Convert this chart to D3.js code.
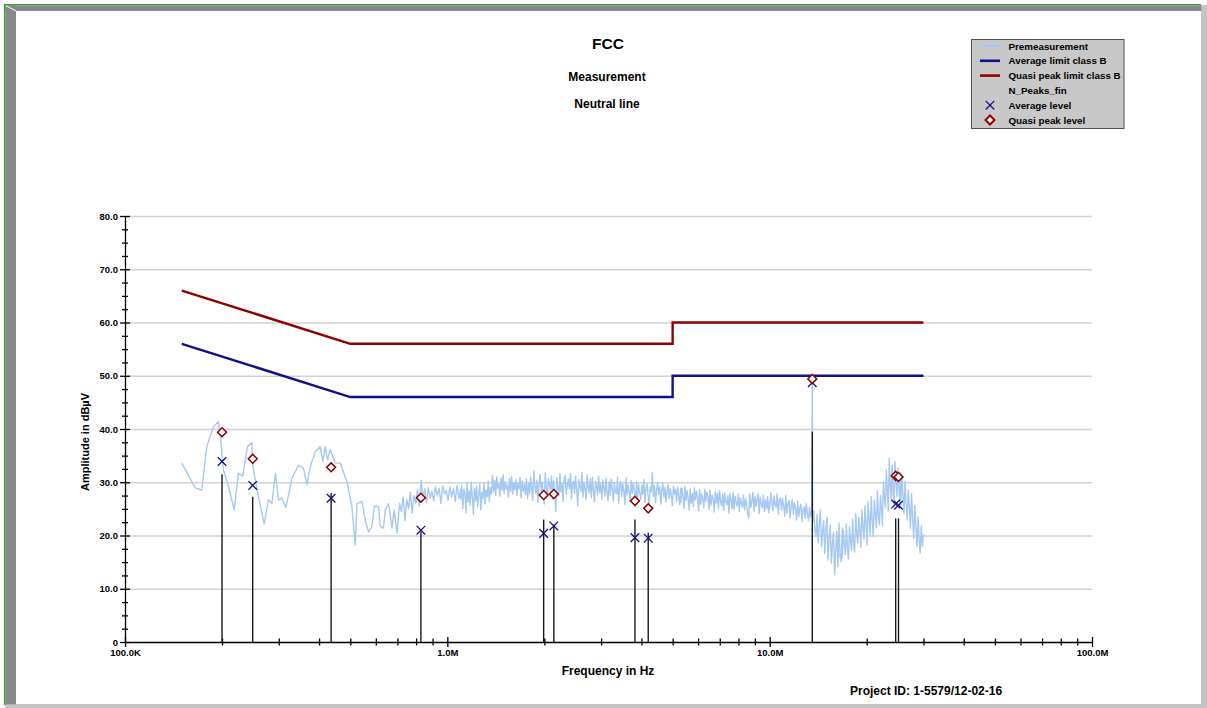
<!DOCTYPE html>
<html>
<head>
<meta charset="utf-8">
<script src="https://cdn.jsdelivr.net/npm/d3@7"></script>
<style>
  body { margin: 0; background: #fff; }
  svg { display: block; font-family: "Liberation Sans", Arial, sans-serif; }
</style>
</head>
<body>
<svg id="chart" width="1207" height="708"></svg>
<script>
// ---- data (frequency in MHz, level in dBuV) ----
const xTickValues = [0.1, 1, 10, 100];
const xTickLabels = ["100.0K", "1.0M", "10.0M", "100.0M"];
const yTickValues = [0, 10, 20, 30, 40, 50, 60, 70, 80];
const yTickLabels = ["0", "10.0", "20.0", "30.0", "40.0", "50.0", "60.0", "70.0", "80.0"];

const limitFreq = [0.15, 0.5, 5, 5, 30];
const avgLimit = [56, 46, 46, 50, 50];
const qpLimit = [66, 56, 56, 60, 60];

// premeasurement, low band (individual points)
const preFreq = [0.150, 0.165, 0.173, 0.1794, 0.188, 0.1949, 0.1972, 0.202, 0.2094, 0.2181,
  0.2248, 0.232, 0.2398, 0.2475, 0.2493, 0.2594, 0.2703, 0.2786, 0.2855, 0.293,
  0.2993, 0.3066, 0.3156, 0.3294, 0.3453, 0.3579, 0.3667, 0.3754, 0.3891, 0.4032,
  0.4111, 0.4179, 0.4249, 0.4331, 0.4489, 0.4653, 0.4882, 0.5058, 0.518, 0.5243,
  0.5433, 0.5563, 0.5696, 0.5836, 0.5933, 0.6117, 0.6192, 0.634, 0.6418, 0.6571,
  0.6733, 0.6844, 0.6981, 0.7112];
const preLevel = [33.6, 29.0, 28.5, 36.7, 40.4, 41.4, 39.2, 32.3, 29.2, 24.8,
  31.7, 31.2, 36.7, 37.4, 32.9, 27.3, 22.2, 26.7, 26.0, 31.7,
  26.7, 27.0, 25.3, 30.7, 33.2, 32.6, 29.5, 32.9, 35.7, 36.7,
  33.9, 36.7, 34.2, 36.1, 33.6, 33.6, 30.1, 25.4, 18.2, 26.0,
  26.4, 22.9, 20.7, 21.7, 25.5, 25.4, 21.7, 21.4, 24.8, 26.0,
  21.4, 24.8, 20.4, 26.0];

// premeasurement, dense sweep segments (start MHz, stop MHz, levels)
const segStart = [0.72, 1.1, 1.8, 3.2, 5.3, 10, 13.6, 16.8, 22.4, 25.5];
const segStop = [1.1, 1.8, 3.2, 5.3, 10, 13.5, 16.8, 22.4, 25.5, 30];
const segLevels = [
  [24.5, 27.2, 22.8, 26.8, 25.0, 28.1, 24.2, 27.5, 26.0, 28.6, 25.6, 30.4, 26.9, 28.8, 26.2, 29.0, 27.1,
   28.3, 26.5, 29.2, 27.4, 28.9, 26.0, 29.3, 27.8, 28.5, 26.6, 29.1, 27.2, 28.8, 26.4, 29.4, 27.0, 28.6],
  [26.8, 29.4, 25.1, 28.7, 27.9, 24.3, 29.8, 26.2, 28.4, 25.7, 30.0, 27.1, 23.9, 28.9, 26.5, 29.2, 25.4,
   27.8, 29.6, 24.8, 28.1, 26.9, 29.9, 25.9, 28.5, 27.3, 30.2, 26.4, 29.0, 27.8, 31.3, 28.2, 30.4, 27.6,
   31.0, 28.9, 29.7, 27.4, 30.8, 28.5, 31.4, 27.9, 30.1, 28.7, 29.5, 27.2, 30.7, 28.3, 31.1, 27.8, 29.9,
   28.6, 30.5, 27.5, 29.8, 28.8, 30.9, 27.0, 30.3, 28.4, 29.6, 27.7, 30.6, 26.9, 29.9, 28.2],
  [27.8, 31.0, 28.9, 26.6, 32.1, 29.3, 27.9, 30.4, 26.2, 29.6, 31.5, 28.4, 30.0, 27.1, 25.9, 31.8, 28.8,
   27.3, 30.7, 29.5, 28.6, 31.2, 26.8, 30.3, 28.1, 24.5, 30.9, 29.0, 27.5, 31.6, 28.2, 29.8, 26.4, 30.6,
   31.3, 27.7, 29.4, 30.6, 28.8, 31.7, 26.9, 29.9, 30.2, 27.9, 31.1, 28.5, 25.6, 30.5, 29.2, 28.3, 31.9,
   27.2, 30.0, 28.7, 26.7, 31.4, 29.1, 28.0, 30.6, 27.1, 30.9, 28.4, 26.3, 30.2, 29.3, 27.6, 31.2, 28.1,
   29.7, 26.8, 30.4, 28.9, 27.4, 30.8, 28.2, 26.5, 30.1, 28.6],
  [27.5, 30.6, 28.7, 26.4, 29.9, 28.1, 27.8, 31.0, 26.0, 29.2, 30.2, 27.3, 29.7, 28.4, 25.8, 30.8, 27.6,
   29.5, 28.3, 26.5, 30.3, 27.9, 29.8, 28.6, 25.4, 30.1, 27.0, 29.6, 28.0, 26.8, 29.4, 27.7, 30.5, 26.2,
   28.9, 29.7, 27.4, 25.9, 29.1, 28.2, 31.8, 27.4, 29.4, 26.1, 28.6, 30.0, 27.7, 29.2, 25.9, 28.5, 29.8,
   27.2, 29.0, 26.3, 28.4, 29.6, 26.9, 28.8, 27.5, 25.6, 29.3, 27.8, 28.7, 26.4, 29.1, 27.3, 25.8, 28.9],
  [26.2, 28.9, 27.4, 25.1, 29.2, 26.6, 28.4, 27.0, 24.8, 28.8, 26.0, 27.9, 25.4, 29.0, 26.7, 28.3, 27.2,
   24.6, 28.6, 25.9, 27.8, 26.9, 25.2, 28.7, 26.4, 28.1, 27.3, 24.9, 28.5, 25.7, 27.6, 26.8, 24.4, 28.2,
   26.1, 27.9, 25.0, 28.4, 26.5, 25.6, 27.7, 24.7, 28.0, 26.3, 25.8, 27.5, 24.2, 27.9, 26.6, 25.1, 28.1,
   24.9, 27.4, 26.2, 25.5, 27.8, 24.5, 27.1, 26.0, 25.3, 27.6, 24.8, 26.9, 25.7, 24.0, 23.3, 27.8, 25.3,
   26.5, 28.1, 24.6, 27.4, 25.5, 26.8, 27.9, 24.1, 27.2, 25.9, 25.2, 27.6, 24.5, 26.7, 25.0, 27.3, 24.3, 26.4],
  [25.0, 28.0, 26.3, 24.6, 27.4, 25.8, 25.3, 27.8, 23.9, 26.6, 27.1, 24.8, 26.9, 25.5, 23.6, 27.5, 24.2,
   26.1, 26.6, 23.3, 25.7, 26.8, 24.0, 26.2, 25.1, 22.9, 26.5, 23.6, 25.2, 25.9, 22.6, 24.8, 25.4, 23.2,
   26.0, 24.1, 22.8, 25.3, 23.5, 24.7],
  [22.5, 24.6, 21.0, 19.8, 23.9, 18.6, 22.0, 24.8, 17.9, 20.5, 22.8, 16.6, 21.2, 23.5, 15.4, 19.6, 21.9,
   14.8, 18.3, 20.6, 12.6, 17.4, 20.8, 14.2, 22.3, 16.0, 15.1, 21.4],
  [15.8, 21.0, 18.3, 16.4, 22.1, 17.5, 15.6, 21.6, 19.0, 17.2, 23.0, 18.4, 16.9, 24.2, 20.1, 18.6, 23.4,
   21.0, 17.8, 24.8, 21.6, 19.3, 25.6, 22.3, 18.2, 26.3, 23.1, 20.1, 27.3, 22.8, 19.8, 26.6, 24.2, 21.5,
   28.4, 23.6, 22.0, 27.5, 24.8, 21.9],
  [23.8, 30.1, 27.0, 25.2, 32.3, 28.5, 24.6, 34.5, 29.8, 26.8, 33.2, 28.1, 25.9, 33.9, 30.2, 27.3, 32.6,
   29.4, 26.1, 31.8],
  [25.4, 31.4, 27.9, 24.1, 30.2, 26.0, 22.9, 28.5, 25.4, 21.3, 27.9, 23.0, 19.5, 25.6, 21.8, 17.9, 23.5,
   19.2, 16.7, 21.8, 18.0, 20.2]
];
// single strong line at 13.56 MHz
const spikeFreq = 13.56;
const spikeLevel = 49.0;

// final measurement
const peakFreq = [0.2, 0.249, 0.436, 0.828, 1.99, 2.14, 3.82, 4.20, 13.56, 24.6, 25.1];
const peakLevel = [31.5, 27.3, 28.0, 20.7, 23.0, 22.0, 23.0, 20.5, 39.5, 23.2, 23.2];
const avgLevel = [33.9, 29.4, 27.0, 21.0, 20.4, 21.8, 19.6, 19.5, 48.7, 25.9, 25.7];
const qpLevel = [39.4, 34.4, 32.8, 27.1, 27.6, 27.8, 26.5, 25.1, 49.4, 31.2, 31.0];

const legendLabels = ["Premeasurement", "Average limit class B", "Quasi peak limit class B",
  "N_Peaks_fin", "Average level", "Quasi peak level"];

// ---- layout ----
const PLOT = {left: 125, right: 1092, top: 216, bottom: 642};
const COLORS = {pre: '#a6c9f1', avg: '#10108a', qp: '#900000', grid: '#d2d2d2', peak: '#1a1a1a'};
const FONT_BOLD = 'bold';

const svg = d3.select('#chart');

// frame
svg.append('rect').attr('width', 1207).attr('height', 708).attr('fill', '#fff');
svg.append('rect').attr('x', 1201).attr('y', 5).attr('width', 6).attr('height', 703).attr('fill', '#c4c4c4');
svg.append('rect').attr('x', 5).attr('y', 704).attr('width', 1202).attr('height', 4).attr('fill', '#c4c4c4');
svg.append('rect').attr('x', 5.3).attr('y', 5.3).attr('width', 10.7).attr('height', 699).attr('fill', '#888');
svg.append('rect').attr('x', 5.3).attr('y', 5.3).attr('width', 1196).attr('height', 5.7).attr('fill', '#888');
svg.append('line').attr('x1', 5.5).attr('y1', 5.5).attr('x2', 16).attr('y2', 11)
  .attr('stroke', '#fff').attr('stroke-width', 1);
svg.append('line').attr('x1', 4).attr('y1', 4.6).attr('x2', 1201).attr('y2', 4.6)
  .attr('stroke', '#3a9a3a').attr('stroke-width', 1.4);
svg.append('line').attr('x1', 4.6).attr('y1', 4).attr('x2', 4.6).attr('y2', 705)
  .attr('stroke', '#3a9a3a').attr('stroke-width', 1.4);

// scales
const x = d3.scaleLog().domain([0.1, 100]).range([PLOT.left, PLOT.right]);
const y = d3.scaleLinear().domain([0, 80]).range([PLOT.bottom, PLOT.top]);

// grid
svg.append('g')
  .attr('transform', 'translate(' + PLOT.left + ',0)')
  .call(d3.axisLeft(y).tickValues(yTickValues.filter(d => d > 0)).tickFormat('')
    .tickSize(-(PLOT.right - PLOT.left)).tickSizeOuter(0))
  .call(g => g.select('.domain').remove())
  .call(g => g.selectAll('.tick line').attr('stroke', COLORS.grid).attr('stroke-width', 1.6));

// limit lines
const line = d3.line().x(d => x(d[0])).y(d => y(d[1]));
svg.append('path')
  .datum(limitFreq.map((f, i) => [f, qpLimit[i]]))
  .attr('d', line).attr('fill', 'none').attr('stroke', COLORS.qp).attr('stroke-width', 2.4);
svg.append('path')
  .datum(limitFreq.map((f, i) => [f, avgLimit[i]]))
  .attr('d', line).attr('fill', 'none').attr('stroke', COLORS.avg).attr('stroke-width', 2.4);

// premeasurement trace
let trace = preFreq.map((f, i) => [f, preLevel[i]]);
segLevels.forEach(function (vals, s) {
  const a = Math.log10(segStart[s]), b = Math.log10(segStop[s]);
  vals.forEach(function (v, i) {
    const t = vals.length > 1 ? i / (vals.length - 1) : 0;
    trace.push([Math.pow(10, a + (b - a) * t), v]);
  });
  if (s === 5) trace.push([spikeFreq, spikeLevel]);
});
svg.append('path')
  .datum(trace)
  .attr('d', line).attr('fill', 'none').attr('stroke', COLORS.pre)
  .attr('stroke-width', 1.4).attr('stroke-linejoin', 'round');

// N_Peaks_fin lines
svg.selectAll('.peak')
  .data(peakFreq)
  .enter().append('line')
  .attr('class', 'peak')
  .attr('x1', d => x(d)).attr('x2', d => x(d))
  .attr('y1', y(0)).attr('y2', (d, i) => y(peakLevel[i]))
  .attr('stroke', COLORS.peak).attr('stroke-width', 1.4);

// axes
const yAxisG = svg.append('g')
  .attr('transform', 'translate(' + PLOT.left + ',0)');
yAxisG.append('g')
  .call(d3.axisLeft(y).tickValues(d3.range(0, 80.1, 2.5).filter(d => d % 10 !== 0)).tickFormat('')
    .tickSize(3).tickSizeOuter(0))
  .call(g => g.select('.domain').remove())
  .call(g => g.selectAll('.tick line').attr('x1', 3).attr('stroke', '#000').attr('stroke-width', 1.3));
yAxisG.append('g')
  .call(d3.axisLeft(y).tickValues(yTickValues).tickFormat((d, i) => yTickLabels[i])
    .tickSize(5).tickPadding(2).tickSizeOuter(0))
  .call(g => g.select('.domain').attr('stroke', '#000').attr('stroke-width', 1.3))
  .call(g => g.selectAll('.tick line').attr('x1', 5).attr('stroke', '#000').attr('stroke-width', 1.3))
  .call(g => g.selectAll('.tick text').attr('fill', '#000').attr('font-weight', FONT_BOLD)
    .attr('font-size', 9.5).attr('font-family', '"Liberation Sans", Arial, sans-serif'));

const xAxisG = svg.append('g')
  .attr('transform', 'translate(0,' + PLOT.bottom + ')');
xAxisG.append('g')
  .call(d3.axisBottom(x).tickValues(x.ticks().filter(d => xTickValues.indexOf(d) < 0)).tickFormat('')
    .tickSize(3.5).tickSizeOuter(0))
  .call(g => g.select('.domain').remove())
  .call(g => g.selectAll('.tick line').attr('y1', -3.5).attr('stroke', '#000').attr('stroke-width', 1.3));
xAxisG.append('g')
  .call(d3.axisBottom(x).tickValues(xTickValues).tickFormat((d, i) => xTickLabels[i])
    .tickSize(5).tickPadding(2).tickSizeOuter(0))
  .call(g => g.select('.domain').attr('stroke', '#000').attr('stroke-width', 1.3))
  .call(g => g.selectAll('.tick line').attr('y1', -5).attr('stroke', '#000').attr('stroke-width', 1.3))
  .call(g => g.selectAll('.tick text').attr('fill', '#000').attr('font-weight', FONT_BOLD)
    .attr('font-size', 9.5).attr('font-family', '"Liberation Sans", Arial, sans-serif'));

// markers
const timesSym = d3.symbol().type(d3.symbolTimes).size(50);
const diamondSym = d3.symbol().type(d3.symbolSquare).size(40);
svg.selectAll('.avg')
  .data(peakFreq)
  .enter().append('path')
  .attr('class', 'avg')
  .attr('transform', (d, i) => 'translate(' + x(d) + ',' + y(avgLevel[i]) + ')')
  .attr('d', timesSym).attr('fill', 'none').attr('stroke', COLORS.avg).attr('stroke-width', 1.3);
svg.selectAll('.qp')
  .data(peakFreq)
  .enter().append('path')
  .attr('class', 'qp')
  .attr('transform', (d, i) => 'translate(' + x(d) + ',' + y(qpLevel[i]) + ') rotate(45)')
  .attr('d', diamondSym).attr('fill', '#fff').attr('stroke', COLORS.qp).attr('stroke-width', 1.5);

// titles
function addText(tx, ty, str, size, anchor) {
  return svg.append('text')
    .attr('x', tx).attr('y', ty)
    .attr('text-anchor', anchor || 'middle')
    .attr('font-weight', FONT_BOLD)
    .attr('font-size', size)
    .attr('fill', '#000')
    .text(str);
}
addText(608, 49, 'FCC', 15.5);
addText(607, 81, 'Measurement', 12);
addText(607, 108, 'Neutral line', 12);
addText(608, 675, 'Frequency in Hz', 12);
addText(850, 695, 'Project ID: 1-5579/12-02-16', 12, 'start');
addText(0, 0, 'Amplitude in dBµV', 11)
  .attr('transform', 'translate(89,442) rotate(-90)');

// legend
const legend = svg.append('g').attr('transform', 'translate(971.5,39.5)');
legend.append('rect')
  .attr('width', 152.5).attr('height', 89)
  .attr('fill', '#c8c8c8').attr('stroke', '#505050').attr('stroke-width', 1);
const rowY = d3.scalePoint().domain(d3.range(legendLabels.length)).range([6.5, 80.5]);
legendLabels.forEach(function (lab, i) {
  const cy = rowY(i);
  legend.append('text')
    .attr('x', 37).attr('y', cy + 3.6)
    .attr('font-weight', FONT_BOLD).attr('font-size', 9.8).attr('fill', '#000')
    .text(lab);
});
[[COLORS.pre, 0], [COLORS.avg, 1], [COLORS.qp, 2]].forEach(function (p) {
  legend.append('line')
    .attr('x1', 8.5).attr('x2', 28.5)
    .attr('y1', rowY(p[1])).attr('y2', rowY(p[1]))
    .attr('stroke', p[0]).attr('stroke-width', p[1] === 0 ? 2 : 2.6);
});
legend.append('path')
  .attr('transform', 'translate(18.5,' + rowY(4) + ')')
  .attr('d', timesSym).attr('fill', 'none').attr('stroke', COLORS.avg).attr('stroke-width', 1.3);
legend.append('path')
  .attr('transform', 'translate(18.5,' + rowY(5) + ') rotate(45)')
  .attr('d', diamondSym).attr('fill', '#fff').attr('stroke', COLORS.qp).attr('stroke-width', 2);
</script>
</body>
</html>
